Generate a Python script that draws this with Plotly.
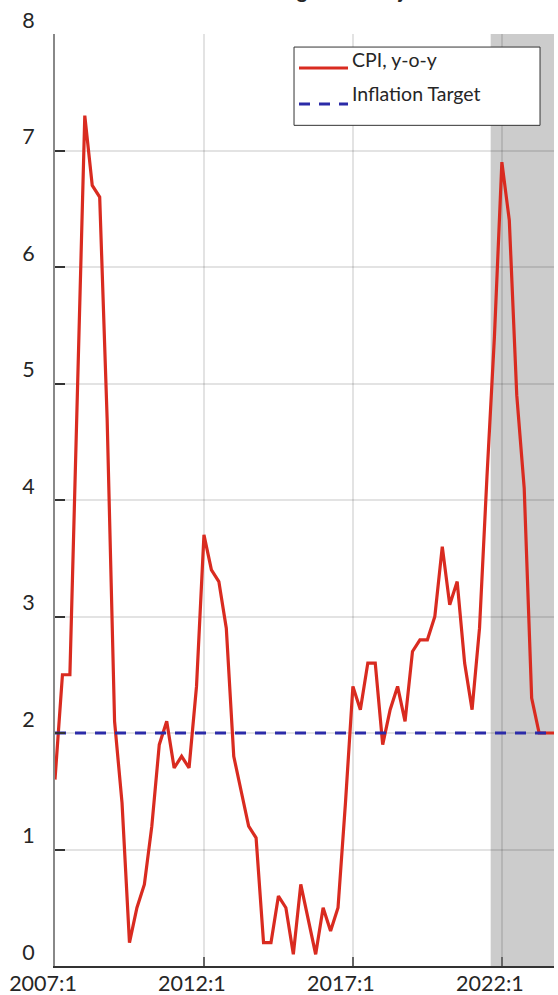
import plotly.graph_objects as go

# ---------------- data ----------------
years = list(range(2007, 2024))
quarters_per_year = 4
cpi_yoy = [
    1.6, 2.5, 2.5, 4.9,   # 2007
    7.3, 6.7, 6.6, 4.7,   # 2008
    2.1, 1.4, 0.2, 0.5,   # 2009
    0.7, 1.2, 1.9, 2.1,   # 2010
    1.7, 1.8, 1.7, 2.4,   # 2011
    3.7, 3.4, 3.3, 2.9,   # 2012
    1.8, 1.5, 1.2, 1.1,   # 2013
    0.2, 0.2, 0.6, 0.5,   # 2014
    0.1, 0.7, 0.4, 0.1,   # 2015
    0.5, 0.3, 0.5, 1.4,   # 2016
    2.4, 2.2, 2.6, 2.6,   # 2017
    1.9, 2.2, 2.4, 2.1,   # 2018
    2.7, 2.8, 2.8, 3.0,   # 2019
    3.6, 3.1, 3.3, 2.6,   # 2020
    2.2, 2.9, 4.2, 5.4,   # 2021
    6.9, 6.4, 4.9, 4.1,   # 2022
    2.3, 2.0, 2.0, 2.0,   # 2023
]
inflation_target = 2.0
tick_labels = ["2007:1", "2012:1", "2017:1", "2022:1"]
tick_years = [2007, 2012, 2017, 2022]
y_ticks = [0, 1, 2, 3, 4, 5, 6, 7, 8]
shade_start = 2021.625   # start of shaded (projection) period
title_text = "CPI Inflation: Target and Projection"

# decimal-year x positions for each quarter
x_dates = [y + q / quarters_per_year for y in years for q in range(quarters_per_year)]
x_end = x_dates[len(cpi_yoy) - 1]

FONT = "Lato"
TXT = "#262626"
RED = "#D92B20"
BLUE = "#2B2BA8"
GRID = "rgba(0,0,0,0.11)"

fig = go.Figure()
fig.add_trace(go.Scatter(
    x=x_dates[:len(cpi_yoy)], y=cpi_yoy, mode="lines", name="CPI, y-o-y",
    line=dict(color=RED, width=3.2), showlegend=False,
))
fig.add_trace(go.Scatter(
    x=[x_dates[0], x_end], y=[inflation_target, inflation_target], mode="lines",
    name="Inflation Target", line=dict(color=BLUE, width=3, dash="11px,9px"),
    showlegend=False,
))

# shaded projection period
fig.add_shape(type="rect", xref="x", yref="paper", x0=shade_start, x1=x_end,
              y0=0, y1=1, fillcolor="#CCCCCC", line=dict(width=0), layer="below")

# custom legend (box, samples, labels)
lx0, lx1, ly0, ly1 = 0.479, 0.972, 0.902, 0.986
fig.add_shape(type="rect", xref="paper", yref="paper", x0=lx0, x1=lx1, y0=ly0, y1=ly1,
              fillcolor="white", line=dict(color="#333333", width=1), layer="above")
s0, s1 = (299 - 55) / 499, (348 - 55) / 499
r1y = (966 - 68) / 932
r2y = (966 - 104) / 932
fig.add_shape(type="line", xref="paper", yref="paper", x0=s0, x1=s1, y0=r1y, y1=r1y,
              line=dict(color=RED, width=3), layer="above")
fig.add_shape(type="line", xref="paper", yref="paper", x0=s0, x1=s1, y0=r2y, y1=r2y,
              line=dict(color=BLUE, width=3, dash="11px,9px"), layer="above")
tx = (350 - 55) / 499
fig.add_annotation(xref="paper", yref="paper", x=tx, y=(966 - 59) / 932, text="CPI, y-o-y",
                   showarrow=False, xanchor="left", yanchor="middle",
                   font=dict(family=FONT, size=19.5, color=TXT))
fig.add_annotation(xref="paper", yref="paper", x=tx, y=(966 - 93) / 932, text="Inflation Target",
                   showarrow=False, xanchor="left", yanchor="middle",
                   font=dict(family=FONT, size=19.5, color=TXT))

# title (cropped at the top edge as in the reference)
fig.add_annotation(xref="paper", yref="paper", x=0.5, y=(966 - 4) / 932, text="<b>" + title_text + "</b>",
                   showarrow=False, xanchor="center", yanchor="bottom",
                   font=dict(family=FONT, size=20, color=TXT))

fig.update_layout(
    width=558, height=995,
    margin=dict(l=55, r=4, t=34, b=29, autoexpand=False),
    paper_bgcolor="white", plot_bgcolor="rgba(0,0,0,0)",
    font=dict(family=FONT, size=21, color=TXT),
    showlegend=False,
)
fig.update_xaxes(
    range=[x_dates[0], x_end], tickvals=tick_years, ticktext=tick_labels,
    ticks="inside", ticklen=9, tickwidth=1.5, tickcolor="#666666",
    showline=True, linecolor="#333333", linewidth=2,
    showgrid=True, gridcolor=GRID, gridwidth=1.5, zeroline=False,
    ticklabelshift=-12, ticklabelstandoff=-3, automargin=False,
    tickfont=dict(family=FONT, size=21.5, color=TXT),
)
fig.update_yaxes(
    range=[0, 8], tickvals=y_ticks,
    ticks="inside", ticklen=10, tickwidth=1.5, tickcolor="#333333",
    showline=True, linecolor="#888888", linewidth=2,
    showgrid=True, gridcolor=GRID, gridwidth=1.5, zeroline=False,
    ticklabelshift=-14, ticklabelstandoff=14, automargin=False,
    tickfont=dict(family=FONT, size=21.5, color=TXT),
)

fig.write_html(
    "out.html",
    config={"displayModeBar": False},
    post_script="document.body.style.margin='0';document.body.style.overflow='hidden';",
)
